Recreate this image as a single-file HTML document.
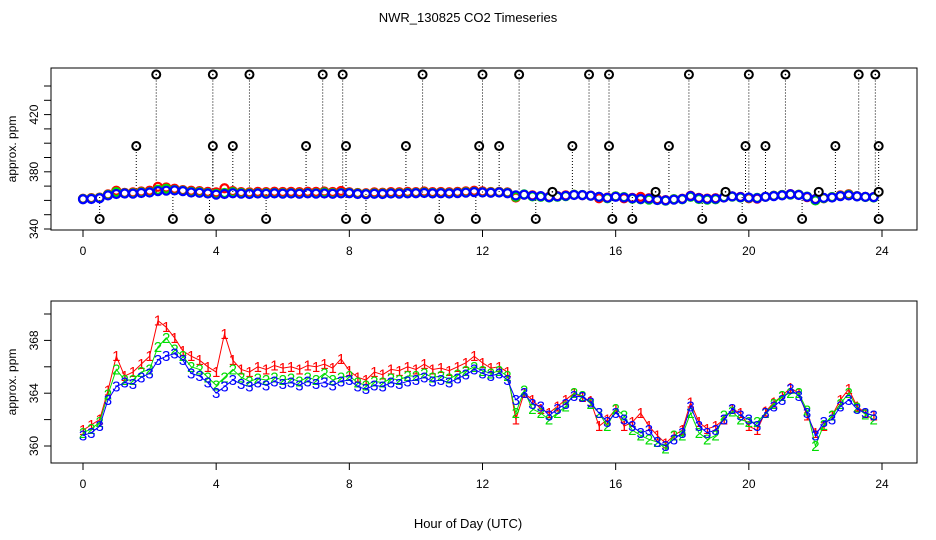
<!DOCTYPE html>
<html><head><meta charset="utf-8"><style>
html,body{margin:0;padding:0;background:#fff;}
svg{display:block;font-family:"Liberation Sans",sans-serif;}
</style></head><body>
<svg id="chart" width="936" height="540" viewBox="0 0 936 540" xmlns="http://www.w3.org/2000/svg">
<rect width="936" height="540" fill="#fff"/>
<text x="468" y="22" font-size="13" text-anchor="middle">NWR_130825  CO2 Timeseries</text>
<text x="468" y="528" font-size="13" text-anchor="middle">Hour of Day (UTC)</text>
<g id="top"></g><g id="bot"></g>
</svg>
<script>
const hours=[];for(let i=0;i<96;i++)hours.push(i*0.25);
const s3=[360.8,361.0,361.5,363.5,364.5,364.8,364.7,365.2,
365.5,366.5,366.8,367.0,366.5,365.5,365.3,364.8,
364.0,364.5,365.0,364.7,364.5,364.8,364.6,364.9,
364.7,364.8,364.6,364.9,364.7,364.8,364.6,364.9,
365.0,364.5,364.3,364.6,364.5,364.8,364.7,364.9,
365.0,365.2,364.9,365.0,364.8,365.1,365.4,365.8,
365.5,365.3,365.5,365.0,363.5,364.0,363.2,363.0,
362.3,362.8,363.2,363.8,363.7,363.3,362.5,361.8,
362.5,362.0,361.5,361.0,361.2,360.3,360.0,360.5,
361.0,363.0,361.5,361.0,361.2,362.0,362.8,362.3,
362.0,361.5,362.5,363.0,363.5,364.3,363.8,362.5,
360.8,361.8,362.0,363.0,363.5,362.8,362.5,362.3];
const s2=[361.0,361.3,361.8,363.9,365.8,365.0,365.0,365.6,
365.8,367.5,368.2,367.3,366.8,366.0,365.8,365.2,
364.6,365.2,365.8,365.2,364.9,365.1,365.0,365.2,
365.0,365.1,364.9,365.2,365.0,365.5,365.0,365.2,
365.3,364.8,364.6,364.9,364.8,365.1,365.0,365.3,
365.3,365.5,365.2,365.3,365.1,365.4,365.7,366.0,
365.7,365.5,365.7,365.3,362.5,364.2,362.8,362.5,
362.0,362.5,363.0,364.0,363.8,363.2,362.5,361.5,
362.8,362.3,361.2,360.8,360.5,360.3,359.8,360.8,
360.8,362.5,361.0,360.5,360.8,362.3,362.6,362.0,
361.8,361.8,362.5,363.2,363.8,364.0,364.0,362.7,
360.0,361.6,362.3,363.2,364.0,362.9,362.4,362.0];
const s1=[361.2,361.6,362.0,364.2,366.8,365.3,365.6,366.2,
366.8,369.5,369.0,368.2,367.2,366.8,366.5,366.0,
365.6,368.5,366.5,365.8,365.6,366.0,365.8,366.1,
365.9,366.0,365.8,366.1,366.0,366.2,365.9,366.6,
365.7,365.2,365.0,365.6,365.4,365.8,365.7,366.0,
365.8,366.2,365.8,365.9,365.7,366.0,366.3,366.8,
366.3,365.9,366.0,365.6,362.0,364.0,363.5,362.8,
362.5,363.0,363.5,364.0,363.7,363.4,361.5,362.0,
362.8,361.5,361.8,362.5,361.5,360.8,360.2,360.8,
361.2,363.3,361.8,361.3,361.5,362.0,362.8,362.5,
361.5,361.2,362.6,363.3,363.8,364.4,364.0,362.3,
361.0,361.5,362.3,363.5,364.3,363.0,362.5,362.3];
const outHours=[2.2,3.9,5.0,7.2,7.8,10.2,12.0,13.1,15.2,15.8,18.2,20.0,21.1,23.3,23.8,
1.6,3.9,4.5,6.7,7.9,9.7,11.9,12.5,14.7,15.8,17.6,19.9,20.5,22.6,23.9,
0.5,2.7,3.8,5.5,7.9,8.5,10.7,11.8,13.6,15.9,16.5,18.6,19.8,21.6,23.9,
14.1,17.2,19.3,22.1,23.9];
const outVals=[448,448,448,448,448,448,448,448,448,448,448,448,448,448,448,
398,398,398,398,398,398,398,398,398,398,398,398,398,398,398,
347,347,347,347,347,347,347,347,347,347,347,347,347,347,347,
366,366,366,366,366];
const xTicks=[0,4,8,12,16,20,24];
const topYTicks=[340,350,360,370,380,390,400,410,420,430,440,450];
const topYLabels=[340,380,420];
const botYTicks=[360,362,364,366,368,370];
const botYLabels=[360,364,368];

const NS="http://www.w3.org/2000/svg";
function mk(p,t,a){const e=document.createElementNS(NS,t);for(const k in a)e.setAttribute(k,a[k]);p.appendChild(e);return e;}
const X0=51,X1=917;
const xs=h=>83+h*(882-83)/24;
const yTop=v=>229-(v-340)*1.43;
const yBot=v=>446-(v-360)*13.2;
const colors=['#ff0000','#00dd00','#0000ff'];
const series=[s1,s2,s3];

function axes(g,y0,y1,yf,yt,yl,name){
  const box=mk(g,'rect',{x:X0,y:y0,width:X1-X0,height:y1-y0,fill:'none',stroke:'#000','stroke-width':1});
  
  xTicks.forEach(t=>{
    const l=mk(g,'line',{x1:xs(t),x2:xs(t),y1:y1,y2:y1+7,stroke:'#000'});
    
    const tx=mk(g,'text',{x:xs(t),y:y1+25,'font-size':12,'text-anchor':'middle'});tx.textContent=t;
    
  });
  yt.forEach(v=>{const y=yf(v);if(y<y0-1||y>y1+1)return;
    const l=mk(g,'line',{x1:X0-7,x2:X0,y1:y,y2:y,stroke:'#000'});
    });
  yl.forEach(v=>{const y=yf(v);
    const tx=mk(g,'text',{x:38,y:y,'font-size':12,'text-anchor':'middle',transform:`rotate(-90 38 ${y})`});tx.textContent=v;
    });
  const yc=(y0+y1)/2;
  const t=mk(g,'text',{x:16,y:yc,'font-size':12,'text-anchor':'middle',transform:`rotate(-90 16 ${yc})`});t.textContent='approx. ppm';
  
}

// Top panel
const gt=document.getElementById('top');
axes(gt,68,230,yTop,topYTicks.filter(v=>v<=440),topYLabels,'top');
outHours.forEach((h,i)=>{
  const l=mk(gt,'line',{x1:xs(h),x2:xs(h),y1:yTop(outVals[i]),y2:yTop(365),stroke:'#000','stroke-dasharray':'1,2','stroke-width':1});
  
});
series.forEach((s,k)=>{
  const g=mk(gt,'g',{});
  
  s.forEach((v,i)=>{
    const c=mk(g,'circle',{cx:xs(hours[i]),cy:yTop(v),r:4,fill:'none',stroke:colors[k],'stroke-width':2.2});
    
  });
});
outHours.forEach((h,i)=>{
  const c=mk(gt,'circle',{cx:xs(h),cy:yTop(outVals[i]),r:4,fill:'#fff',stroke:'#000','stroke-width':2});
  
  const d=mk(gt,'circle',{cx:xs(h),cy:yTop(outVals[i]),r:0.8,fill:'#000'});
  
});

// Bottom panel
const gb=document.getElementById('bot');
axes(gb,301,463,yBot,botYTicks,botYLabels,'bottom');
series.forEach((s,k)=>{
  const g=mk(gb,'g',{});
  
  const pts=s.map((v,i)=>xs(hours[i])+','+yBot(v)).join(' ');
  const pl=mk(g,'polyline',{points:pts,fill:'none',stroke:colors[k],'stroke-width':1});
  
  s.forEach((v,i)=>{
    const t=mk(g,'text',{x:xs(hours[i]),y:yBot(v)+5,'font-size':15,'text-anchor':'middle',fill:colors[k]});
    t.textContent=String(k+1);
    
  });
});
</script>
</body></html>
